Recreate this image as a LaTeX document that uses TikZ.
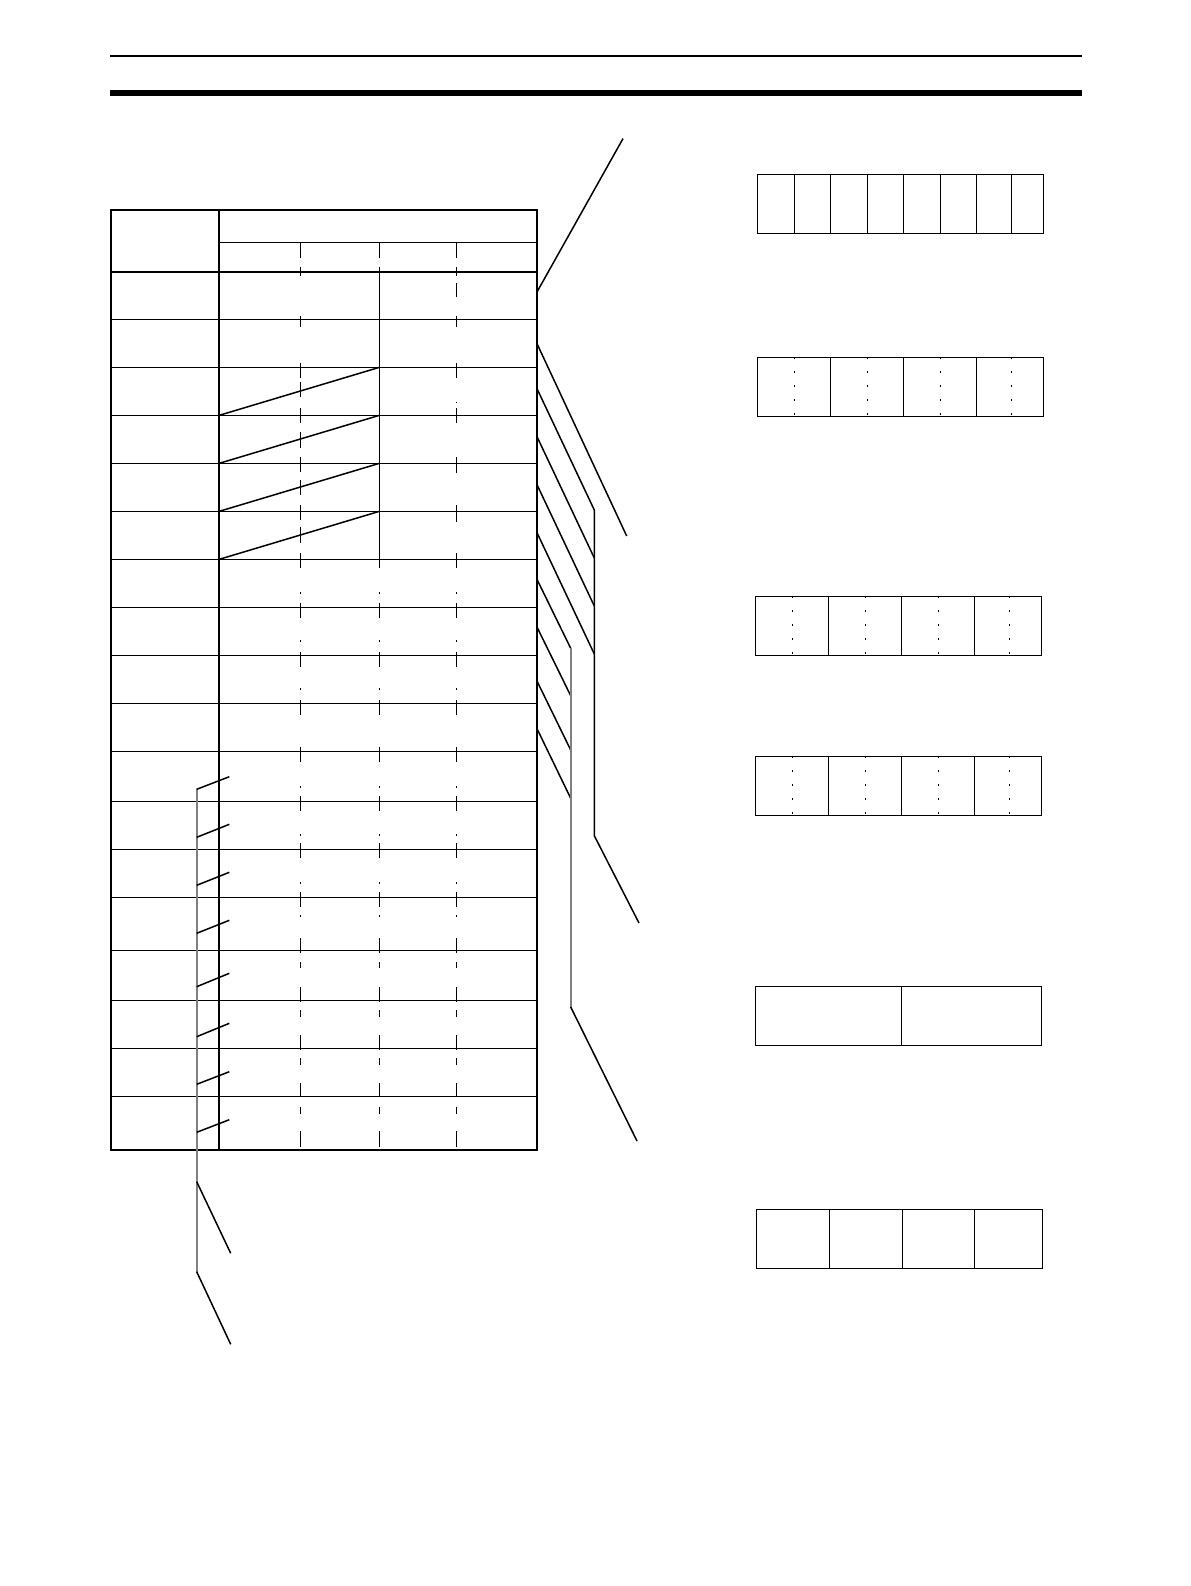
\documentclass[tikz,border=0pt]{standalone}
\usepackage{amsmath}
\usepackage{tikz}
\tikzset{
  frame/.style={color=black, line width=1.1pt},
  rule/.style={color=black, line width=0.75pt},
  dotdiv/.style={color=black, line width=0.7pt, dash pattern=on 1pt off 6pt},
  guide/.style={color=gray, line width=0.8pt}
}

\begin{document}
\begin{tikzpicture}[x=0.5pt,y=-0.5pt]
\useasboundingbox (0,0) rectangle (1190,1586);

% page head rules
\draw[color=black, line width=1pt] (110,55.7) -- (1081.7,55.7);
\draw[color=black, line width=3pt] (110,92.7) -- (1081.7,92.7);

% table frame
\draw[frame] (111,210) rectangle (537,1150.3);
\draw[frame] (219.3,210) -- (219.3,1150.3);
\draw[frame] (111,271.7) -- (537,271.7);
\draw[rule] (219.3,242.3) -- (537,242.3);
\draw[rule] (111,319.3) -- (537,319.3) (111,367.3) -- (537,367.3) (111,415.3) -- (537,415.3)
  (111,463.3) -- (537,463.3) (111,511.3) -- (537,511.3) (111,559.3) -- (537,559.3)
  (111,607.3) -- (537,607.3) (111,655.3) -- (537,655.3) (111,703.3) -- (537,703.3)
  (111,751.3) -- (537,751.3) (111,801.3) -- (537,801.3) (111,849.3) -- (537,849.3)
  (111,897.3) -- (537,897.3) (111,950.3) -- (537,950.3) (111,1000.3) -- (537,1000.3)
  (111,1048.3) -- (537,1048.3) (111,1096.3) -- (537,1096.3);

% solid split and diagonals
\draw[rule] (379.5,271.7) -- (379.5,559.3);
\draw[rule] (219.3,415.3) -- (379.5,367.3);
\draw[rule] (219.3,463.3) -- (379.5,415.3);
\draw[rule] (219.3,511.3) -- (379.5,463.3);
\draw[rule] (219.3,559.3) -- (379.5,511.3);

% broken column lines
\draw[rule] (300.5,242.3) -- (300.5,258.3) (300.5,267) -- (300.5,276) (300.5,315.7) -- (300.5,327)
  (300.5,363.3) -- (300.5,378.3) (300.5,381.7) -- (300.5,396.7) (300.5,408.3) -- (300.5,423.3)
  (300.5,431.7) -- (300.5,448.3) (300.5,456.7) -- (300.5,471.7) (300.5,480) -- (300.5,495)
  (300.5,505) -- (300.5,520) (300.5,526.7) -- (300.5,543.3) (300.5,553.3) -- (300.5,568.3);
\draw[rule] (379.5,242.3) -- (379.5,258.3) (379.5,267) -- (379.5,276) (379.5,553.3) -- (379.5,568.3);
\draw[rule] (456.5,242.3) -- (456.5,258.3) (456.5,267) -- (456.5,276) (456.5,283.3) -- (456.5,297.3)
  (456.5,315.7) -- (456.5,327) (456.5,363.3) -- (456.5,378.3) (456.5,401.5) -- (456.5,403)
  (456.5,408.3) -- (456.5,423.3) (456.5,456.7) -- (456.5,473.3) (456.5,505) -- (456.5,522)
  (456.5,553.3) -- (456.5,568.3);
\foreach \cx in {300.5,379.5,456.5}{
  \draw[rule] (\cx,592.3) -- (\cx,593.8) (\cx,603.3) -- (\cx,618.3) (\cx,640.3) -- (\cx,641.8)
    (\cx,651.7) -- (\cx,666.7) (\cx,688.3) -- (\cx,689.8) (\cx,700) -- (\cx,715)
    (\cx,747.3) -- (\cx,762.3) (\cx,786) -- (\cx,787.5) (\cx,795.7) -- (\cx,810.7)
    (\cx,834) -- (\cx,835.5) (\cx,843.3) -- (\cx,858.3) (\cx,882.3) -- (\cx,883.8)
    (\cx,891.7) -- (\cx,906.7) (\cx,915) -- (\cx,916.5) (\cx,938.3) -- (\cx,953.3)
    (\cx,962.3) -- (\cx,968.3) (\cx,987.3) -- (\cx,1001.7) (\cx,1010) -- (\cx,1016.7)
    (\cx,1035.3) -- (\cx,1050) (\cx,1058.3) -- (\cx,1065) (\cx,1083.3) -- (\cx,1096.7)
    (\cx,1106.7) -- (\cx,1114) (\cx,1131) -- (\cx,1146.7);
}

% left bracket
\draw[guide] (196.7,789.3) -- (196.7,1271.7);
\draw[rule] (196.7,789.3) -- (229.3,776.7);
\draw[rule] (196.7,837.3) -- (229.3,824.3);
\draw[rule] (196.7,885.3) -- (229.3,872.3);
\draw[rule] (196.7,933.3) -- (229.3,920.3);
\draw[rule] (196.7,986.7) -- (229.3,973.3);
\draw[rule] (196.7,1036.7) -- (229.3,1023.3);
\draw[rule] (196.7,1084.3) -- (229.3,1071.7);
\draw[rule] (196.7,1132.3) -- (229.3,1119.7);
\draw[rule] (196.7,1181.7) -- (230.7,1253.3);
\draw[rule] (196.7,1271.7) -- (230.7,1344.3);

% right leaders
\draw[rule] (537.3,291.4) -- (623,138.6);
\draw[rule] (537.3,344.3) -- (626.7,536);
\draw[rule] (537.3,389.3) -- (594.3,510);
\draw[rule] (537.3,437.3) -- (594.3,558);
\draw[rule] (537.3,485.3) -- (594.3,606);
\draw[rule] (537.3,533.3) -- (594.3,654);
\draw[rule] (594.3,510) -- (594.3,835.7) -- (639,923);
\draw[rule] (537.3,580) -- (570.7,648.3);
\draw[rule] (537.3,627.7) -- (570.7,695.7);
\draw[rule] (537.3,681.7) -- (570.7,750);
\draw[rule] (537.3,729.3) -- (570.7,798.3);
\draw[guide] (570.7,648.3) -- (570.7,1007);
\draw[rule] (570.7,1007) -- (637,1141);

% register boxes
\draw[rule] (757.3,174.3) rectangle (1043.3,233.3);
\draw[rule] (794.3,174.3) -- (794.3,233.3) (830.3,174.3) -- (830.3,233.3) (867.3,174.3) -- (867.3,233.3)
  (903.3,174.3) -- (903.3,233.3) (940.3,174.3) -- (940.3,233.3) (976.3,174.3) -- (976.3,233.3)
  (1011.3,174.3) -- (1011.3,233.3);

\draw[rule] (757.3,357.3) rectangle (1043.3,416.3);
\draw[rule] (830.3,357.3) -- (830.3,416.3) (903.3,357.3) -- (903.3,416.3) (976.3,357.3) -- (976.3,416.3);
\draw[dotdiv] (794.3,357.3) -- (794.3,416.3) (867.3,357.3) -- (867.3,416.3)
  (940.3,357.3) -- (940.3,416.3) (1011.3,357.3) -- (1011.3,416.3);

\draw[rule] (755.7,596.3) rectangle (1041.7,655.3);
\draw[rule] (828.3,596.3) -- (828.3,655.3) (901.3,596.3) -- (901.3,655.3) (974.3,596.3) -- (974.3,655.3);
\draw[dotdiv] (792.3,596.3) -- (792.3,655.3) (865.3,596.3) -- (865.3,655.3)
  (938.3,596.3) -- (938.3,655.3) (1009.3,596.3) -- (1009.3,655.3);

\draw[rule] (755.7,756.3) rectangle (1041.7,815.3);
\draw[rule] (828.3,756.3) -- (828.3,815.3) (901.3,756.3) -- (901.3,815.3) (974.3,756.3) -- (974.3,815.3);
\draw[dotdiv] (792.3,756.3) -- (792.3,815.3) (865.3,756.3) -- (865.3,815.3)
  (938.3,756.3) -- (938.3,815.3) (1009.3,756.3) -- (1009.3,815.3);

\draw[rule] (755.7,986.7) rectangle (1041.7,1045.3);
\draw[rule] (901.3,986.7) -- (901.3,1045.3);

\draw[rule] (756.3,1209.3) rectangle (1042.3,1268.3);
\draw[rule] (829.3,1209.3) -- (829.3,1268.3) (902.3,1209.3) -- (902.3,1268.3) (974.7,1209.3) -- (974.7,1268.3);
\end{tikzpicture}
\end{document}
